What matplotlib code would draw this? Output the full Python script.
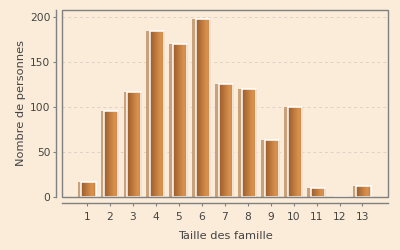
import matplotlib
matplotlib.use("Agg")
import matplotlib.pyplot as plt
import numpy as np
from matplotlib.colors import LinearSegmentedColormap
from matplotlib.patches import Rectangle

categories = ["1", "2", "3", "4", "5", "6", "7", "8", "9", "10", "11", "12", "13"]
values = [17, 96, 117, 184, 170, 198, 126, 120, 63, 100, 10, 0, 12]

bg = "#fbecd9"
fig = plt.figure(figsize=(4, 2.5), dpi=100, facecolor=bg)
ax = fig.add_axes([0.155, 0.212, 0.816, 0.748], facecolor=bg)

x = np.arange(1, len(categories) + 1)
bw = 0.63
# shadow
ax.bar(x - 0.15 + 0.055, values, width=bw, color="#c9a27c", zorder=2, linewidth=0)
bars = ax.bar(x + 0.055, values, width=bw, facecolor="none", edgecolor="white",
              linewidth=1.1, zorder=4)

cmap = LinearSegmentedColormap.from_list(
    "g", [(0, "#9c5c2a"), (0.7, "#d8904d"), (0.85, "#d68e4b"), (1, "#bb7335")])
grad = np.linspace(0, 1, 64).reshape(1, -1)
for b, v in zip(bars, values):
    if v <= 0:
        continue
    x0 = b.get_x()
    im = ax.imshow(grad, extent=[x0, x0 + b.get_width(), 0, v], aspect="auto",
                   cmap=cmap, zorder=3, interpolation="bilinear")
    im.set_clip_path(b)

ax.set_xlim(-0.09, 14.13)
ax.set_ylim(0, 207.8)
ax.set_yticks([0, 50, 100, 150, 200])
ax.set_xticks(x)
ax.set_xticklabels(categories)

ax.yaxis.grid(True, color="#dcd3c6", linestyle=(0, (3, 3)), linewidth=0.7, zorder=1)
ax.set_axisbelow(True)

for s in ["top", "right"]:
    ax.spines[s].set_visible(False)
for s in ["left", "bottom"]:
    ax.spines[s].set_position(("outward", 4))
    ax.spines[s].set_color("#808080")
    ax.spines[s].set_linewidth(1.0)

ax.add_patch(Rectangle((0, 0), 1, 1, transform=ax.transAxes, fill=False,
                       edgecolor="#808080", linewidth=1.0, zorder=5, clip_on=False))

ax.tick_params(axis="both", colors="#808080", labelcolor="#444444", labelsize=7.7,
               length=2.5, width=0.8, pad=2)
ax.tick_params(axis="x", pad=4)

ax.set_xlabel("Taille des famille", fontsize=8.2, color="#444444", labelpad=7)
ax.set_ylabel("Nombre de personnes", fontsize=8.2, color="#444444", labelpad=3)

fig.savefig("out.png", dpi=100, facecolor=bg)
